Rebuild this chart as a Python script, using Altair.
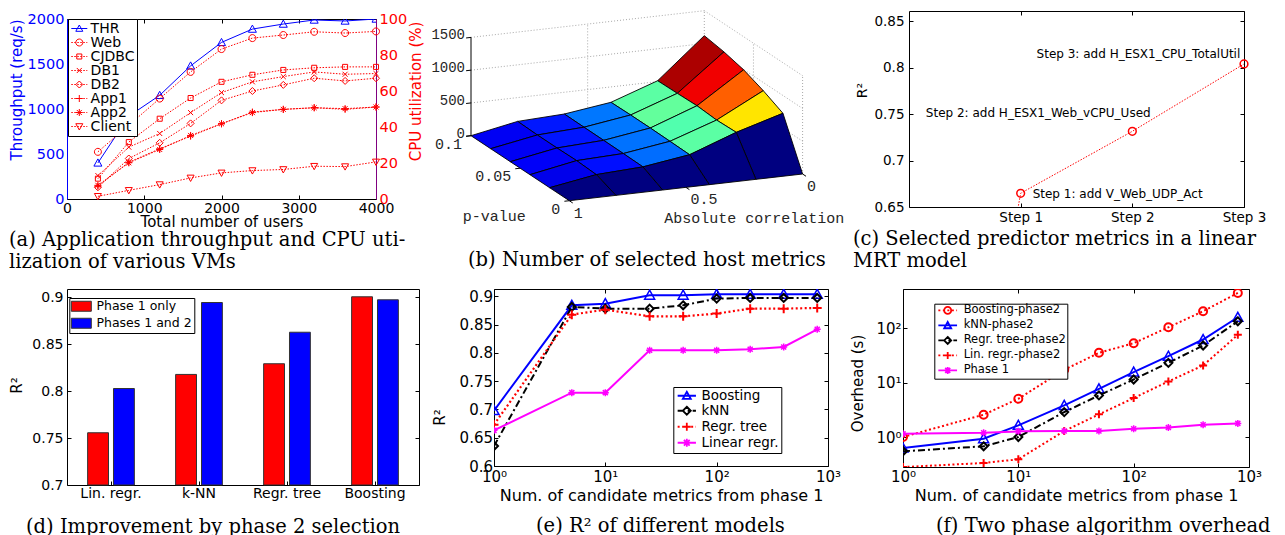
import altair as alt
import pandas as pd

SANS = "DejaVu Sans"
SERIF = "DejaVu Serif"
MONO = "Liberation Mono"
BLUE, RED, MAG, BLK = "#0000ff", "#ff0000", "#ff00ff", "#000000"

# ======================= DATA =======================
# (a) throughput and CPU utilisation
users = [400, 800, 1200, 1600, 2000, 2400, 2800, 3200, 3600, 4000]
throughput = [401, 920, 1152, 1479, 1740, 1888, 1944, 1989, 1978, 2000]
vm_names = ["Web", "CJDBC", "DB1", "DB2", "App1", "App2", "Client"]
cpu_web = [26.2, 41.0, 55.8, 70.6, 83.3, 89.4, 91.1, 92.9, 92.2, 93.1]
cpu_cjdbc = [11.3, 31.6, 44.6, 56.1, 65.1, 69.0, 71.7, 72.9, 73.4, 73.4]
cpu_db1 = [13.0, 28.8, 36.4, 48.0, 59.1, 65.1, 68.0, 70.6, 69.3, 69.7]
cpu_db2 = [6.5, 22.5, 31.2, 42.0, 54.8, 60.0, 63.4, 67.1, 65.6, 67.1]
cpu_app1 = [7.1, 20.4, 27.9, 34.9, 41.8, 48.3, 49.8, 50.7, 49.8, 51.1]
cpu_app2 = [7.6, 20.1, 27.5, 35.3, 41.8, 48.0, 49.8, 50.7, 50.2, 51.1]
cpu_client = [1.5, 4.8, 8.0, 11.7, 14.5, 15.8, 16.4, 18.2, 18.0, 20.6]
vm_values = [cpu_web, cpu_cjdbc, cpu_db1, cpu_db2, cpu_app1, cpu_app2, cpu_client]

# (b) number of selected host metrics (rows: p-value, cols: abs. correlation)
abs_corr = [1.0, 0.8, 0.6, 0.4, 0.2, 0.0]
p_value = [0.0, 0.02, 0.04, 0.06, 0.08, 0.1]
host_counts = [
    [0, 0, 0, 0, 0, 0],
    [0, 118, 155, 259, 519, 728],
    [0, 133, 160, 265, 508, 875],
    [0, 128, 163, 270, 528, 995],
    [0, 128, 165, 270, 519, 1070],
    [0, 137, 168, 265, 513, 1119],
]
count_ticks = [0, 500, 1000, 1500]
p_ticks = [0.1, 0.05, 0.0]
corr_ticks = [1.0, 0.5, 0.0]

# (c) stepwise linear MRT model
steps = [0, 1, 2, 3]
step_r2 = [0.0, 0.6648, 0.7315, 0.804]
step_notes = ["", "Step 1: add V_Web_UDP_Act", "Step 2: add H_ESX1_Web_vCPU_Used",
              "Step 3: add H_ESX1_CPU_TotalUtil"]

# (d) improvement by phase 2
models_d = ["Lin. regr.", "k-NN", "Regr. tree", "Boosting"]
phases_d = ["Phase 1 only", "Phases 1 and 2"]
r2_phase1 = [0.7557, 0.8179, 0.8293, 0.9007]
r2_phase12 = [0.8029, 0.8946, 0.8629, 0.8975]

# (e) R^2 of different models
n_cand = [1, 5, 10, 25, 50, 100, 200, 400, 800]
e_names = ["Boosting", "kNN", "Regr. tree", "Linear regr."]
r2_boost = [0.698, 0.884, 0.887, 0.902, 0.902, 0.9036, 0.9036, 0.9036, 0.9036]
r2_knn = [0.6354, 0.8812, 0.8782, 0.8782, 0.8841, 0.8959, 0.8971, 0.8971, 0.8971]
r2_tree = [0.6731, 0.8676, 0.8764, 0.8646, 0.8646, 0.8694, 0.8782, 0.8782, 0.8794]
r2_lin = [0.663, 0.7297, 0.7297, 0.8045, 0.8045, 0.8045, 0.8063, 0.8104, 0.8417]
e_values = [r2_boost, r2_knn, r2_tree, r2_lin]

# (f) two phase algorithm overhead (s)
f_names = ["Boosting-phase2", "kNN-phase2", "Regr. tree-phase2", "Lin. regr.-phase2", "Phase 1"]
oh_boost = [1.0, 2.57, 5.05, 17.2, 35.3, 53.1, 104, 205, 445]
oh_knn = [0.628, 0.932, 1.64, 3.81, 7.70, 15.6, 30.6, 62.0, 159]
oh_tree = [0.546, 0.674, 1.0, 2.87, 5.82, 11.4, 23.1, 48.1, 134]
oh_lin = [0.28, 0.333, 0.389, 1.29, 2.61, 5.2, 10.5, 20.7, 75.5]
oh_phase1 = [1.15, 1.20, 1.27, 1.29, 1.29, 1.42, 1.50, 1.68, 1.78]
f_values = [oh_boost, oh_knn, oh_tree, oh_lin, oh_phase1]


# ======================= HELPERS =======================
def marker_path(kind, r=1.0):
    a = 0.72 * r
    if kind == "circle":
        return f"M{r:.3f},0A{r:.3f},{r:.3f},0,1,1,{-r:.3f},0A{r:.3f},{r:.3f},0,1,1,{r:.3f},0Z"
    if kind == "square":
        return f"M{-a:.3f},{-a:.3f}H{a:.3f}V{a:.3f}H{-a:.3f}Z"
    if kind == "diamond":
        return f"M0,{-r:.3f}L{r:.3f},0L0,{r:.3f}L{-r:.3f},0Z"
    if kind == "tri_up":
        return f"M0,{-r:.3f}L{r:.3f},{0.8 * r:.3f}L{-r:.3f},{0.8 * r:.3f}Z"
    if kind == "tri_down":
        return f"M0,{r:.3f}L{r:.3f},{-0.8 * r:.3f}L{-r:.3f},{-0.8 * r:.3f}Z"
    if kind == "plus":
        return f"M{-r:.3f},0H{r:.3f}M0,{-r:.3f}V{r:.3f}"
    if kind == "x":
        return f"M{-a:.3f},{-a:.3f}L{a:.3f},{a:.3f}M{-a:.3f},{a:.3f}L{a:.3f},{-a:.3f}"
    if kind == "star":
        return marker_path("plus", r) + marker_path("x", r)
    return kind


def line_path(pattern, half, unit):
    if not pattern:
        return f"M{-half:.3f},0H{half:.3f}"
    out, x, k = [], -half, 0
    while x < half - 1e-6:
        on = pattern[k % len(pattern)] / unit
        off = pattern[(k + 1) % len(pattern)] / unit
        x2 = min(x + on, half)
        out.append(f"M{x:.3f},0H{x2:.3f}")
        x = x2 + off
        k += 2
    return "".join(out)


def ax(**kw):
    base = dict(grid=False, labelFont=SANS, titleFont=SANS, labelColor=BLK, titleColor=BLK,
                tickColor=BLK, domainColor=BLK, labelFlush=False, labelOverlap=False,
                titleFontWeight="normal")
    base.update(kw)
    return alt.Axis(**base)


def inward(**kw):
    base = dict(offset=-4, tickSize=4, domain=False)
    base.update(kw)
    return ax(**base)


def mirror_axis(orient, values, color=BLK):
    return alt.Axis(orient=orient, values=values, offset=-4, tickSize=4, tickColor=color,
                    labels=False, domain=False, grid=False, title=None)


def ytitle(**kw):
    base = dict(titleAngle=270, titleBaseline="middle", titleAlign="center")
    base.update(kw)
    return base


def caption(text, dx, offset):
    return alt.TitleParams(text=text, orient="bottom", anchor="start", frame="group", dx=dx,
                           offset=offset, font=SERIF, fontSize=19.5, fontWeight="normal",
                           color=BLK, lineHeight=22)


def legend_layer(names, colors, paths, size, sw, **legkw):
    leg = alt.Legend(title=None, orient="none", fillColor="white", strokeColor=BLK,
                     cornerRadius=0, labelFont=SANS, labelColor=BLK, symbolSize=size,
                     symbolStrokeWidth=sw, **legkw)
    df = pd.DataFrame({"series": names})
    return alt.Chart(df).transform_filter("false").mark_point(
        filled=False, strokeWidth=sw, size=size, opacity=1).encode(
        shape=alt.Shape("series:N", scale=alt.Scale(domain=names, range=paths), legend=leg),
        color=alt.Color("series:N", scale=alt.Scale(domain=names, range=colors), legend=leg),
    )


def mirror_layer(xenc=None, yenc=None):
    cols = {}
    enc = {}
    if xenc is not None:
        enc["x"] = xenc
        cols[xenc.shorthand.split(":")[0]] = []
    if yenc is not None:
        enc["y"] = yenc
        cols[yenc.shorthand.split(":")[0]] = []
    return alt.Chart(pd.DataFrame(cols)).mark_point(opacity=0).encode(**enc)


def series_layers(xs, ys, color, width, dash, marker, size, mwidth, xenc, yenc):
    df = pd.DataFrame({"x": xs, "y": ys})
    lk = dict(color=color, strokeWidth=width, clip=True)
    if dash:
        lk["strokeDash"] = dash
    line = alt.Chart(df).mark_line(**lk).encode(x=xenc(), y=yenc())
    pts = alt.Chart(df).mark_point(shape=marker_path(marker), size=size, color=color,
                                   filled=False, strokeWidth=mwidth, opacity=1,
                                   clip=True).encode(x=xenc(), y=yenc())
    return [line, pts]


LOG_LABEL = ("datum.value == 1 ? '10\u2070' : datum.value == 10 ? '10\u00b9' : "
             "datum.value == 100 ? '10\u00b2' : '10\u00b3'")

# ======================= PANEL (a) =======================
a_xticks = [0, 1000, 2000, 3000, 4000]
x_axis_a = inward(values=a_xticks, format="d", labelFontSize=14,
                  labelPadding=2.5, title="Total number of users", titleFontSize=15,
                  titleBaseline="top", titleY=19)
y_left_axis = ax(values=[0, 500, 1000, 1500, 2000], format="d", labelFontSize=14.5, labelColor=BLUE,
                 ticks=False, domainColor=BLUE, labelPadding=3, title="Throughput (req/s)",
                 titleColor=BLUE, titleFontSize=15, **ytitle(titleX=-50.5, titleY=70.5))
y_right_axis = ax(orient="right", values=[0, 20, 40, 60, 80, 100], format="d", labelFontSize=14.5,
                  labelColor=RED, ticks=False, domainColor="#800080", labelPadding=3,
                  title="CPU utilization (%)", titleColor=RED, titleFontSize=15,
                  **ytitle(titleX=39.5, titleY=72))
A_XSCALE = alt.Scale(domain=[0, 4000], nice=False)


def xa():
    return alt.X("x:Q", scale=A_XSCALE, axis=x_axis_a)


def ya_l():
    return alt.Y("y:Q", scale=alt.Scale(domain=[0, 2000], nice=False), axis=y_left_axis)


def ya_r():
    return alt.Y("y:Q", scale=alt.Scale(domain=[0, 100], nice=False), axis=y_right_axis)


left_a = alt.layer(*series_layers(users, throughput, BLUE, 1, None, "tri_up", 64, 1, xa, ya_l))
vm_markers = ["circle", "square", "x", "diamond", "plus", "star", "tri_down"]
right_parts = []
for vals, mk in zip(vm_values, vm_markers):
    df = pd.DataFrame({"x": users, "y": vals})
    right_parts.append(alt.Chart(df).mark_line(color=RED, strokeWidth=1, strokeDash=[1.5, 1.5]).encode(
        x=xa(), y=ya_r()))
    right_parts.append(alt.Chart(df).mark_point(shape=marker_path(mk), size=49, color=RED, filled=False,
                                                strokeWidth=1, opacity=1).encode(x=xa(), y=ya_r()))
a_unit = 3.5
a_paths = [marker_path("tri_up") + line_path(None, 8 / a_unit, a_unit)] + [
    marker_path(m) + line_path([1.5, 1.5], 8 / a_unit, a_unit) for m in vm_markers]
legend_a = legend_layer(["THR"] + vm_names, [BLUE] + [RED] * 7, a_paths, 49, 1,
                        legendX=1, legendY=0, padding=2.5, rowPadding=0, symbolOffset=1.8,
                        labelOffset=4.3, labelFontSize=14)
right_a = alt.layer(*right_parts, legend_a)
inner_a = alt.layer(left_a, right_a).resolve_scale(y="independent")
mirror_a = mirror_layer(xenc=alt.X("x:Q", scale=A_XSCALE, axis=mirror_axis("top", a_xticks)))
chart_a = alt.layer(inner_a, mirror_a).resolve_axis(x="independent").properties(
    width=309, height=180,
    title=caption(["(a) Application throughput and CPU uti-", "lization of various VMs"], -58, 2.3))

# ======================= PANEL (b) =======================
B_ORIGIN = (133.3, 189.7)
B_CORR = (233.3, -26.7)
B_P = (-98.3, -65.0)
B_Z = -98.3


def proj(c, p, z):
    return [round(B_ORIGIN[0] + (1 - c) * B_CORR[0] + (p / 0.1) * B_P[0], 2),
            round(B_ORIGIN[1] + (1 - c) * B_CORR[1] + (p / 0.1) * B_P[1] + z / 1500 * B_Z, 2)]


def seg(a, b):
    return {"type": "Feature", "geometry": {"type": "LineString", "coordinates": [a, b]},
            "properties": {}}


grid_feats = []
for z in count_ticks[1:]:
    grid_feats.append(seg(proj(1, 0.1, z), proj(0, 0.1, z)))
    grid_feats.append(seg(proj(0, 0.1, z), proj(0, 0.0, z)))
for c in [0.5, 0.0]:
    grid_feats.append(seg(proj(c, 0.1, 0), proj(c, 0.1, 1500)))
for p in [0.05, 0.0]:
    grid_feats.append(seg(proj(0, p, 0), proj(0, p, 1500)))

axis_feats = [seg(proj(1, 0.1, 0), proj(1, 0.1, 1500))]
for z in count_ticks:
    axis_feats.append(seg(proj(1, 0.1, z), proj(1.021, 0.1, z)))
for p in p_ticks:
    axis_feats.append(seg(proj(1, p, 0), proj(1.021, p, 0)))
for c in corr_ticks:
    axis_feats.append(seg(proj(c, 0, 0), proj(c, -0.0035, 0)))

cells = []
for j in range(len(p_value) - 1):
    for i in range(len(abs_corr) - 1):
        ring = [proj(abs_corr[i], p_value[j], host_counts[j][i]),
                proj(abs_corr[i + 1], p_value[j], host_counts[j][i + 1]),
                proj(abs_corr[i + 1], p_value[j + 1], host_counts[j + 1][i + 1]),
                proj(abs_corr[i], p_value[j + 1], host_counts[j + 1][i])]
        ring.append(ring[0])
        depth = 5.34 * (i + 0.5) + 13.0 * (j + 0.5)
        cells.append((depth, {"type": "Feature", "geometry": {"type": "Polygon", "coordinates": [ring]},
                              "properties": {"v": host_counts[j][i + 1]}}))
cells.sort(key=lambda t: -t[0])
surf_feats = [c[1] for c in cells]

zmax = max(max(r) for r in host_counts)
jet_dom = [0, 0.125 * zmax, 0.375 * zmax, 0.625 * zmax, 0.875 * zmax, zmax]
jet_rng = ["#000080", "#0000ff", "#00ffff", "#ffff00", "#ff0000", "#800000"]
PROJ = dict(type="identity", scale=1, translate=[0, 0])

grid_b = alt.Chart(alt.Data(values=grid_feats)).mark_geoshape(
    filled=False, stroke="#a8a8a8", strokeWidth=1, strokeDash=[1, 2], clip=False).project(**PROJ)
axis_b = alt.Chart(alt.Data(values=axis_feats)).mark_geoshape(
    filled=False, stroke=BLK, strokeWidth=1, clip=False).project(**PROJ)
surf_b = alt.Chart(alt.Data(values=surf_feats)).mark_geoshape(
    stroke=BLK, strokeWidth=0.9, clip=False).encode(
    color=alt.Color("properties.v:Q", scale=alt.Scale(domain=jet_dom, range=jet_rng, interpolate="rgb"),
                    legend=None)).project(**PROJ)


def lbl_df(points, labels):
    return pd.DataFrame({"lon": [q[0] for q in points], "lat": [q[1] for q in points], "t": labels})


def txt_b(df, **kw):
    return alt.Chart(df).mark_text(font=MONO, color="#262626", baseline="middle", clip=False, **kw).encode(
        longitude="lon:Q", latitude="lat:Q", text="t:N").project(**PROJ)


z_lbl = txt_b(lbl_df([proj(1, 0.1, z) for z in count_ticks], [f"{z:g}" for z in count_ticks]),
              fontSize=14, align="right", dx=-6, dy=-2)
p_lbl = txt_b(lbl_df([proj(1, p, 0) for p in p_ticks], [f"{p:g}" for p in p_ticks]),
              fontSize=15, align="right", dx=-9, dy=8)
c_lbl = txt_b(lbl_df([proj(c, 0, 0) for c in corr_ticks], [f"{c:g}" for c in corr_ticks]),
              fontSize=15, align="left", dx=4.5, dy=12)
p_title = txt_b(lbl_df([proj(1, 0.05, 0)], ["p-value"]), fontSize=15, align="center", dx=-26, dy=48)
c_title = txt_b(lbl_df([proj(0.5, 0, 0)], ["Absolute correlation"]), fontSize=15, align="center",
                dx=68.3, dy=30.7)

chart_b = alt.layer(grid_b, axis_b, surf_b, z_lbl, p_lbl, c_lbl, p_title, c_title).properties(
    width=413, height=196, view=alt.ViewBackground(stroke="transparent"),
    title=caption("(b) Number of selected host metrics", 32, 25))

# ======================= PANEL (c) =======================
df_c = pd.DataFrame({"step": steps, "r2": step_r2, "note": step_notes})
c_yticks = [0.65, 0.7, 0.75, 0.8, 0.85]
x_axis_c = inward(values=[1, 2, 3], labelExpr="'Step ' + datum.value", labelFontSize=13.5,
                  labelPadding=3, title=None)
y_axis_c = inward(values=c_yticks, format="~g", labelFontSize=13.5,
                  labelPadding=5, title="R\u00b2", titleFontSize=14, **ytitle(titleX=-51, titleY=79))
C_XSCALE = alt.Scale(domain=[0, 3], nice=False)
C_YSCALE = alt.Scale(domain=[0.65, 0.861], nice=False, zero=False)


def xc():
    return alt.X("step:Q", scale=C_XSCALE, axis=x_axis_c)


def yc():
    return alt.Y("r2:Q", scale=C_YSCALE, axis=y_axis_c)


line_c = alt.Chart(df_c).mark_line(color=RED, strokeWidth=1, strokeDash=[1.5, 1.5], clip=True).encode(
    x=xc(), y=yc())
pts_c = alt.Chart(df_c).transform_filter("datum.step >= 1").mark_point(
    shape="circle", size=60, color=RED, filled=False, strokeWidth=1.5, opacity=1).encode(x=xc(), y=yc())
note_layers = []
for st, (dx, dy, al) in zip([1, 2, 3], [(12, 1, "left"), (18.3, -18.3, "right"), (-3.7, -10, "right")]):
    note_layers.append(alt.Chart(df_c).transform_filter(f"datum.step == {st}").mark_text(
        font=SANS, fontSize=12, align=al, baseline="middle", dx=dx, dy=dy, color=BLK).encode(
        x=xc(), y=yc(), text="note:N"))
main_c = alt.layer(line_c, pts_c, *note_layers)
mirror_c = mirror_layer(alt.X("step:Q", scale=C_XSCALE, axis=mirror_axis("top", [1, 2, 3])),
                        alt.Y("r2:Q", scale=C_YSCALE, axis=mirror_axis("right", c_yticks)))
chart_c = alt.layer(main_c, mirror_c).resolve_axis(x="independent", y="independent").properties(
    width=335, height=196,
    title=caption(["(c) Selected predictor metrics in a linear", "MRT model"], -56, 6))

# ======================= PANEL (d) =======================
df_d = pd.DataFrame({
    "model": models_d * 2,
    "phase": [phases_d[0]] * 4 + [phases_d[1]] * 4,
    "r2": r2_phase1 + r2_phase12,
})
d_yticks = [0.7, 0.75, 0.8, 0.85, 0.9]
D_YSCALE = alt.Scale(domain=[0.7, 0.909], nice=False, zero=False)
bars_d = alt.Chart(df_d).mark_bar(stroke="#333333", strokeWidth=1).encode(
    x=alt.X("model:N", sort=models_d, scale=alt.Scale(paddingInner=0, paddingOuter=0),
            axis=inward(labelAngle=0, labelFontSize=14, labelPadding=1, title=None)),
    xOffset=alt.XOffset("phase:N", sort=phases_d,
                        scale=alt.Scale(paddingInner=0.1923, paddingOuter=0.798)),
    y=alt.Y("r2:Q", scale=D_YSCALE,
            axis=inward(values=d_yticks, format="~g", labelFontSize=14,
                        labelPadding=4, title="R\u00b2", titleFontSize=15,
                        **ytitle(titleX=-54.5, titleY=96))),
    y2=alt.datum(0.7),
    color=alt.Color("phase:N", sort=phases_d, scale=alt.Scale(domain=phases_d, range=[RED, BLUE]),
                    legend=alt.Legend(title=None, orient="none", legendX=2.3, legendY=9,
                                      fillColor="white", strokeColor=BLK, padding=2, rowPadding=2,
                                      symbolType="M-2,-1H2V1H-2Z", symbolSize=100,
                                      symbolStrokeColor="#333333", symbolStrokeWidth=1,
                                      symbolOffset=3.75, labelOffset=8.9, labelFont=SANS,
                                      labelFontSize=12.5, labelColor=BLK)),
)
mirror_d = mirror_layer(yenc=alt.Y("r2:Q", scale=D_YSCALE, axis=mirror_axis("right", d_yticks)))
chart_d = alt.layer(bars_d, mirror_d).resolve_axis(y="independent").properties(
    width=352, height=196, title=caption("(d) Improvement by phase 2 selection", -41, 17.5))

# ======================= PANEL (e) =======================
log_ticks = [1, 10, 100, 1000]
e_yticks = [0.6, 0.65, 0.7, 0.75, 0.8, 0.85, 0.9]
x_axis_e = inward(values=log_ticks, labelExpr=LOG_LABEL, labelFontSize=15, labelPadding=3,
                  title="Num. of candidate metrics from phase 1", titleFontSize=16,
                  titleBaseline="top", titleY=25)
y_axis_e = inward(values=e_yticks, format="~g", labelFontSize=15,
                  labelPadding=1.5, title="R\u00b2", titleFontSize=15,
                  **ytitle(titleX=-58.7, titleY=128))
E_XSCALE = alt.Scale(type="log", domain=[1, 1000], nice=False)
E_YSCALE = alt.Scale(domain=[0.6, 0.9129], nice=False, zero=False)


def xe():
    return alt.X("x:Q", scale=E_XSCALE, axis=x_axis_e)


def ye():
    return alt.Y("y:Q", scale=E_YSCALE, axis=y_axis_e)


DOT = [2, 2.5]
DASHDOT = [7, 3, 2, 3]
e_style = [(BLUE, 2, None, "tri_up", 100, 1.5), (BLK, 2, DASHDOT, "diamond", 64, 2),
           (RED, 2.2, DOT, "plus", 81, 2), (MAG, 2, None, "star", 49, 1.5)]
e_layers = []
for vals, st in zip(e_values, e_style):
    e_layers += series_layers(n_cand, vals, st[0], st[1], st[2], st[3], st[4], st[5], xe, ye)
e_unit = 4.0
e_paths = [marker_path(st[3]) + line_path(st[2], 9.15 / e_unit, e_unit) for st in e_style]
legend_e = legend_layer(e_names, [st[0] for st in e_style], e_paths, 64, 1.8,
                        legendX=179.3, legendY=98, padding=2, rowPadding=0, symbolOffset=4.75,
                        labelOffset=7.9, labelFontSize=13.5)
main_e = alt.layer(*e_layers, legend_e)
mirror_e = mirror_layer(alt.X("x:Q", scale=E_XSCALE, axis=mirror_axis("top", log_ticks)),
                        alt.Y("y:Q", scale=E_YSCALE, axis=mirror_axis("right", e_yticks)))
chart_e = alt.layer(main_e, mirror_e).resolve_axis(x="independent", y="independent").properties(
    width=334, height=177, title=caption("(e) R\u00b2 of different models", 42, 13.5))

# ======================= PANEL (f) =======================
f_yticks = [1, 10, 100]
x_axis_f = inward(values=log_ticks, labelExpr=LOG_LABEL, labelFontSize=15, labelPadding=2,
                  title="Num. of candidate metrics from phase 1", titleFontSize=16,
                  titleBaseline="top", titleY=24)
y_axis_f = inward(values=f_yticks, labelExpr=LOG_LABEL, labelFontSize=15, labelPadding=2,
                  title="Overhead (s)", titleFontSize=15, **ytitle(titleX=-50, titleY=94))
F_XSCALE = alt.Scale(type="log", domain=[1, 1000], nice=False)
F_YSCALE = alt.Scale(type="log", domain=[0.281, 526], nice=False)


def xf():
    return alt.X("x:Q", scale=F_XSCALE, axis=x_axis_f)


def yf():
    return alt.Y("y:Q", scale=F_YSCALE, axis=y_axis_f)


f_style = [(RED, 2, DOT, "circle", 64, 2), (BLUE, 2, None, "tri_up", 100, 1.5),
           (BLK, 2, DASHDOT, "diamond", 64, 2), (RED, 2, DOT, "plus", 64, 2),
           (MAG, 2, None, "star", 49, 1.5)]
f_layers = []
for vals, st in zip(f_values, f_style):
    f_layers += series_layers(n_cand, vals, st[0], st[1], st[2], st[3], st[4], st[5], xf, yf)
f_unit = 3.5
f_paths = [marker_path(st[3]) + line_path(st[2], 9.35 / f_unit, f_unit) for st in f_style]
legend_f = legend_layer(f_names, [st[0] for st in f_style], f_paths, 49, 1.8,
                        legendX=31.3, legendY=14.7, padding=1, rowPadding=0, symbolOffset=6.65,
                        labelOffset=10.2, labelFontSize=11.5)
main_f = alt.layer(*f_layers, legend_f)
mirror_f = mirror_layer(alt.X("x:Q", scale=F_XSCALE, axis=mirror_axis("top", log_ticks)),
                        alt.Y("y:Q", scale=F_YSCALE, axis=mirror_axis("right", f_yticks)))
chart_f = alt.layer(main_f, mirror_f).resolve_axis(x="independent", y="independent").properties(
    width=346, height=178, title=caption("(f) Two phase algorithm overhead", 33, 13.8))

# ======================= LAYOUT =======================
INDEP = dict(color="independent", shape="independent")
top = alt.hconcat(chart_a, chart_b, chart_c, spacing=60, center=True, bounds="flush").resolve_scale(**INDEP)
bottom = alt.hconcat(chart_d, chart_e, chart_f, spacing=75, bounds="flush").resolve_scale(**INDEP)
chart = alt.vconcat(top, bottom, spacing=15, padding=0).resolve_scale(**INDEP).configure_view(
    stroke=BLK, strokeWidth=1)

chart.save("out.html", embed_options={"renderer": "svg", "actions": False})
